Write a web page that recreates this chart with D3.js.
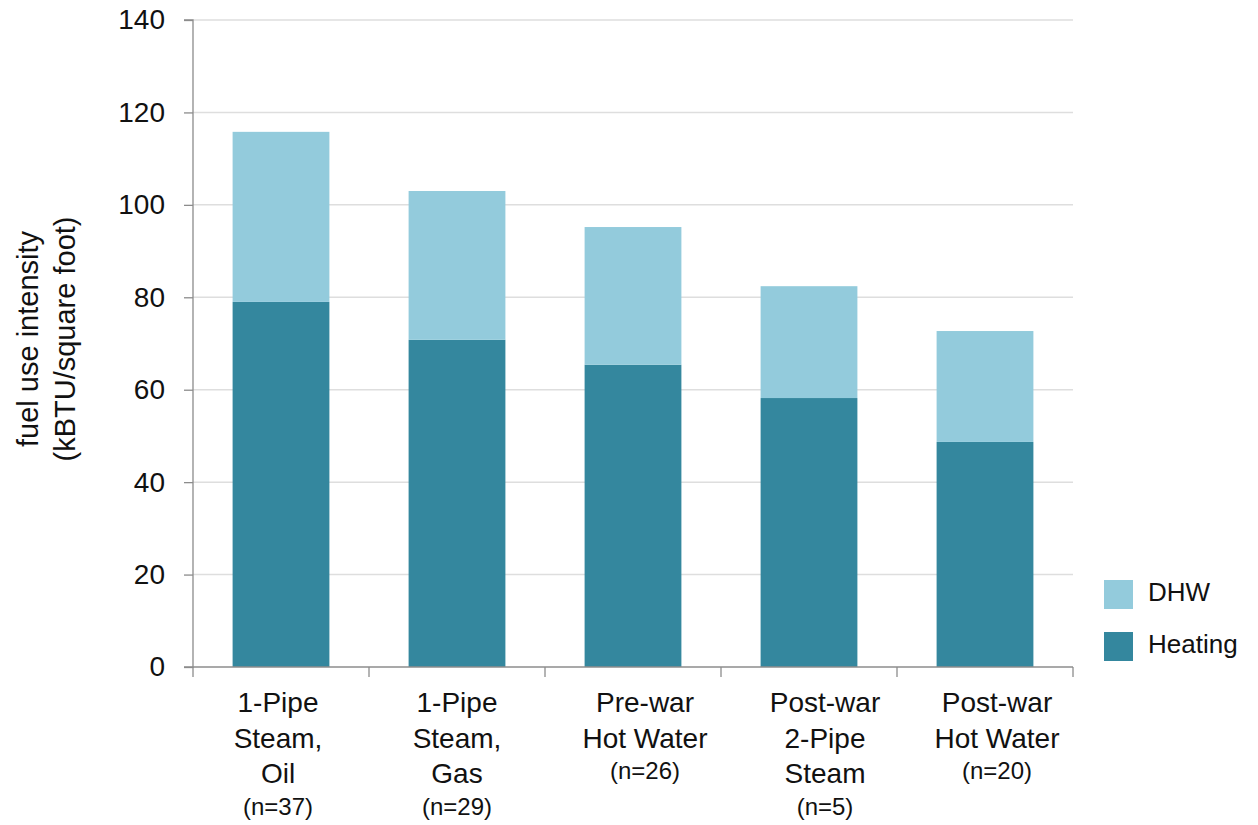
<!DOCTYPE html>
<html><head><meta charset="utf-8">
<script src="https://cdn.jsdelivr.net/npm/d3@7"></script>
<style>body{margin:0;background:#fff}svg{display:block}text{font-family:"Liberation Sans",Arial,sans-serif;fill:#111}</style>
</head><body><svg id="c" width="1258" height="825"></svg>
<script>
const categories = [
  ["1-Pipe","Steam,","Oil"],
  ["1-Pipe","Steam,","Gas"],
  ["Pre-war","Hot Water"],
  ["Post-war","2-Pipe","Steam"],
  ["Post-war","Hot Water"]
];
const sampleLabels = ["(n=37)","(n=29)","(n=26)","(n=5)","(n=20)"];
const heating = [79.0, 70.8, 65.4, 58.2, 48.7];
const dhw = [36.8, 32.2, 29.8, 24.2, 24.0];
const yTicks = [0,20,40,60,80,100,120,140];
const seriesNames = ["DHW","Heating"];
const colors = {DHW:"#93CBDC", Heating:"#34879E"};

const svg = d3.select("#c");
const L=193, R=1073, T=20, B=667;
const x = d3.scaleBand().domain(d3.range(categories.length)).range([L,R]).paddingInner(0.45).paddingOuter(0.225);
const y = d3.scaleLinear().domain([0,140]).range([B,T]);

// gridlines
svg.append("g").selectAll("line").data(yTicks.filter(d=>d>0)).join("line")
  .attr("x1",L).attr("x2",R).attr("y1",d=>y(d)).attr("y2",d=>y(d))
  .attr("stroke","#dedede").attr("stroke-width",1.5);

// bars
const data = categories.map((c,i)=>({i, Heating:heating[i], DHW:dhw[i]}));
const stack = d3.stack().keys(["Heating","DHW"])(data);
svg.append("g").selectAll("g").data(stack).join("g").attr("fill",d=>colors[d.key])
  .selectAll("rect").data(d=>d).join("rect")
  .attr("x",d=>x(d.data.i)).attr("width",x.bandwidth())
  .attr("y",d=>y(d[1])).attr("height",d=>y(d[0])-y(d[1]));

// y axis
const yAxis = d3.axisLeft(y).tickValues(yTicks).tickSize(9).tickPadding(19);
const gy = svg.append("g").attr("transform",`translate(${L},0)`).call(yAxis);
gy.select(".domain").attr("stroke","#8c8c8c").attr("stroke-width",1.3).attr("d",`M-9,${T}H0V${B}H-9`);
gy.selectAll(".tick line").attr("stroke","#8c8c8c").attr("stroke-width",1.3);
gy.selectAll(".tick text").style("font-size","28px").style("font-family","Liberation Sans, Arial, sans-serif").attr("fill","#111");

// x axis baseline + ticks at band boundaries
const bounds = d3.range(categories.length+1).map(k=>L+k*(R-L)/categories.length);
svg.append("line").attr("x1",L).attr("x2",R).attr("y1",B).attr("y2",B).attr("stroke","#8c8c8c").attr("stroke-width",1.3);
svg.append("g").selectAll("line").data(bounds).join("line")
  .attr("x1",d=>d).attr("x2",d=>d).attr("y1",B).attr("y2",B+10)
  .attr("stroke","#8c8c8c").attr("stroke-width",1.3);

// category labels (small horizontal nudges as in the original layout)
const labelNudge = [-3, 0, 12, 16, 12];
const lab = svg.append("g");
categories.forEach((lines,i)=>{
  const cx = x(i)+x.bandwidth()/2 + labelNudge[i];
  lines.forEach((t,j)=>{
    lab.append("text").attr("x",cx).attr("y",712+j*35.5).attr("text-anchor","middle")
      .style("font-size","28px").text(t);
  });
  lab.append("text").attr("x",cx).attr("y",712+lines.length*35.5-4).attr("text-anchor","middle")
    .style("font-size","24px").text(sampleLabels[i]);
});

// y title
const yt = svg.append("text").attr("transform","translate(0,339) rotate(-90)").attr("text-anchor","middle").style("font-size","29px");
yt.append("tspan").attr("x",0).attr("y",38).text("fuel use intensity");
yt.append("tspan").attr("x",0).attr("y",75).text("(kBTU/square foot)");

// legend
const lg = svg.append("g");
seriesNames.forEach((s,k)=>{
  const yy = 580 + k*52;
  lg.append("rect").attr("x",1104).attr("y",yy).attr("width",29).attr("height",29).attr("fill",colors[s]);
  lg.append("text").attr("x",1148).attr("y",yy+21).style("font-size","26px").text(s);
});
</script></body></html>
